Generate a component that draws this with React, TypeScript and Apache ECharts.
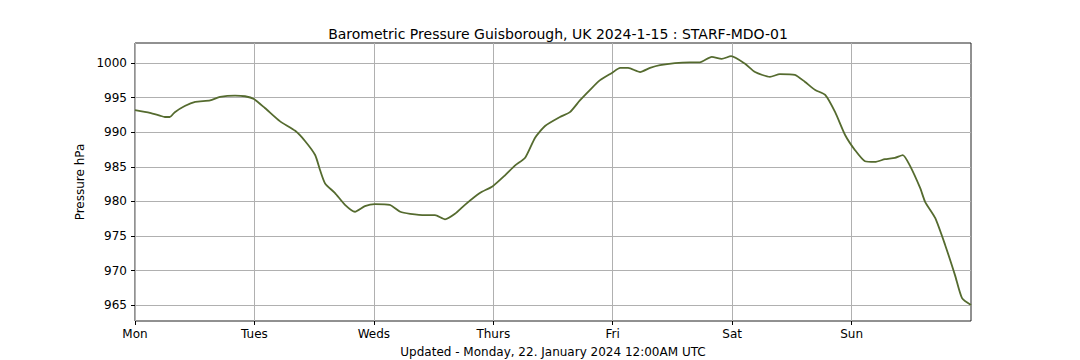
import React, { useEffect, useRef } from "react";
import * as echarts from "echarts";

const dayLabels = ["Mon", "Tues", "Weds", "Thurs", "Fri", "Sat", "Sun"];
const xTicks = [0, 24, 48, 72, 96, 120, 144];
const yTicks = [965, 970, 975, 980, 985, 990, 995, 1000];
const hours = [
  0, 3, 5, 6, 7, 8, 10, 12.1, 15.1, 17.1, 20.1, 22.1, 23.9, 26.1, 29.1, 32.2, 34.2, 36.2, 37.2, 38.2,
  40.2, 42.2, 44.2, 46.2, 48.2, 51.2, 53.3, 55.3, 58.3, 60.3, 62.3, 64.3, 66.3, 69.3, 71.9, 74.4,
  76.4, 78.4, 80.4, 82.4, 85.4, 87.4, 89.4, 91.4, 93.4, 95.9, 97.5, 99.1, 101.5, 103.5, 105.5,
  108.5, 111.5, 113.5, 115.9, 117.9, 119.8, 122.6, 124.6, 127.6, 129.6, 132.6, 134.6, 136.7,
  138.7, 140.7, 142.7, 144.7, 146.7, 148.7, 150.7, 152.7, 154.3, 155.7, 157.8, 158.8, 160.8,
  162.8, 164.8, 166.2, 168,
];
const pressure = [
  993.2, 992.8, 992.4, 992.2, 992.2, 992.9, 993.8, 994.4, 994.6, 995.1, 995.3, 995.2, 994.8,
  993.5, 991.6, 990.2, 988.7, 986.7, 984.5, 982.6, 981.2, 979.5, 978.5, 979.3, 979.6, 979.5,
  978.5, 978.2, 978.0, 978.0, 977.4, 978.2, 979.5, 981.2, 982.2, 983.8, 985.2, 986.3, 989.2,
  990.9, 992.2, 992.9, 994.6, 996.1, 997.5, 998.6, 999.3, 999.3, 998.7, 999.3, 999.7, 1000.0,
  1000.1, 1000.1, 1000.9, 1000.6, 1001.0, 999.9, 998.7, 998.0, 998.4, 998.3, 997.3, 996.1,
  995.4, 992.9, 989.6, 987.4, 985.8, 985.7, 986.1, 986.3, 986.7, 985.2, 981.9, 979.9, 977.6,
  973.7, 969.3, 966.0, 965.0,
];

export default function App() {
  const ref = useRef<HTMLDivElement>(null);
  useEffect(() => {
    if (!ref.current) return;
    const chart = echarts.init(ref.current, undefined, { renderer: "svg" });
    const font = "DejaVu Sans";
    chart.setOption({
      animation: false,
      backgroundColor: "#ffffff",
      title: {
        text: "Barometric Pressure Guisborough, UK 2024-1-15 : STARF-MDO-01",
        left: 553,
        top: 22,
        textAlign: "center",
        textStyle: { fontFamily: font, fontSize: 14, fontWeight: "normal", color: "#000" },
      },
      grid: {
        left: 135,
        right: 109,
        top: 43,
        bottom: 39,
        outerBoundsMode: "none",
        containLabel: false,
        show: true,
        borderColor: "#222",
        borderWidth: 1,
        backgroundColor: "transparent",
      },
      xAxis: {
        type: "value",
        min: 0,
        max: 168,
        interval: 24,
        name: "Updated - Monday, 22. January 2024 12:00AM UTC",
        nameLocation: "middle",
        nameGap: 25,
        nameTextStyle: { fontFamily: font, fontSize: 12, color: "#000" },
        axisLine: { show: false },
        axisTick: { show: true, length: 4, lineStyle: { color: "#000" }, customValues: xTicks },
        axisLabel: {
          fontFamily: font,
          fontSize: 12,
          color: "#000",
          margin: 7,
          customValues: xTicks,
          formatter: (v: number) => dayLabels[Math.round(v / 24)] ?? "",
        },
        splitLine: { show: true, lineStyle: { color: "#b0b0b0", width: 1 } },
      },
      yAxis: {
        type: "value",
        min: 962.7,
        max: 1002.9,
        name: "Pressure hPa",
        nameLocation: "middle",
        nameGap: 36,
        nameTextStyle: { fontFamily: font, fontSize: 12, color: "#000" },
        axisLine: { show: false },
        axisTick: { show: true, length: 4, lineStyle: { color: "#000" }, customValues: yTicks },
        axisLabel: {
          fontFamily: font,
          fontSize: 12,
          color: "#000",
          margin: 8,
          customValues: yTicks,
          formatter: (v: number) => String(Math.round(v)),
        },
        splitLine: { show: true, lineStyle: { color: "#b0b0b0", width: 1 } },
      },
      series: [
        {
          type: "line",
          data: hours.map((h, i) => [h, pressure[i]]),
          showSymbol: false,
          smooth: 0.2,
          lineStyle: { color: "#556b2f", width: 1.8 },
          itemStyle: { color: "#556b2f" },
        },
      ],
    });
    return () => chart.dispose();
  }, []);
  return (
    <div
      ref={ref}
      style={{ position: "fixed", left: 0, top: 0, width: 1080, height: 360 }}
    />
  );
}
